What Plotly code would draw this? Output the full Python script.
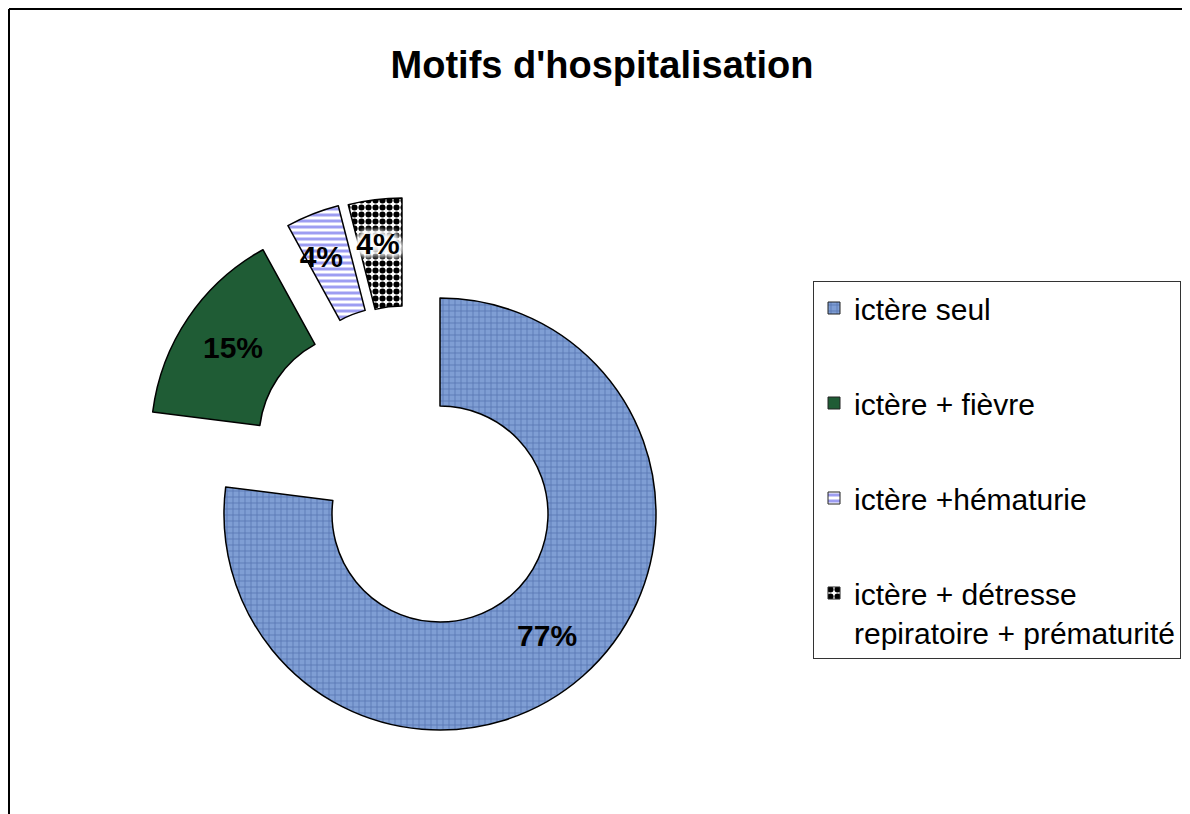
import plotly.graph_objects as go

# ---------------- data ----------------
LABELS = ["ictère seul", "ictère + fièvre", "ictère +hématurie",
          "ictère + détresse repiratoire + prématurité"]
LEGEND_LABELS = ["ictère seul", "ictère + fièvre", "ictère +hématurie",
                 "ictère + détresse<br>repiratoire + prématurité"]
VALUES = [77, 15, 4, 4]
TITLE = "Motifs d'hospitalisation"

# ---------------- style ----------------
PAGE_OFF = 8                     # default body margin of the html page
W, H = 1190 - PAGE_OFF, 814 - PAGE_OFF
FONT = "Liberation Sans, Arial, sans-serif"
COLORS = ["#7393cb", "#1f5c35", "#ffffff", "#ffffff"]
PAT_SHAPE = ["+", "", "-", "."]
PAT_FG = ["#5876b3", "#1f5c35", "#9d9df2", "#000000"]
PAT_BG = ["#7f9ed4", "#1f5c35", "#ffffff", "#ffffff"]
PAT_SIZE = [6, 8, 6, 7]
PAT_SOLID = [0.25, 0.3, 0.5, 0.6]
TEXT_PREFIX = ["", "", "\u00a0<br>", "\u00a0<br>"]   # nudges small labels inward
TEXT_SHADOW = ["", "", "",
               "0 0 7px white, 0 0 7px white, 0 0 7px white, 0 0 7px white, "
               "0 0 7px white, 0 0 7px white, 0 0 7px white, 0 0 7px white"]
# doughnut centre / radius (page px) and explode offsets of each slice (px)
CX, CY, R = 440, 514, 216
EXPLODE = [(0, 0), (-73, -75), (-48, -99), (-38, -100)]
HOLE = 0.5


def px(x):
    return (x - PAGE_OFF) / W


def py(y):
    return 1 - (y - PAGE_OFF) / H


def domain(cx, cy, r):
    return dict(x=[px(cx - r), px(cx + r)], y=[py(cy + r), py(cy - r)])


total = sum(VALUES)
pct_text = [f"{v / total * 100:.0f}%" for v in VALUES]
n = len(VALUES)

fig = go.Figure()

# legend-only entries (tiny pies hidden under the big slice)
for k in range(n):
    fig.add_trace(go.Pie(
        labels=[LEGEND_LABELS[k]], values=[VALUES[k]],
        marker=dict(colors=[COLORS[k]], line=dict(color="#222222", width=1),
                    pattern=dict(shape=PAT_SHAPE[k], fgcolor=PAT_FG[k],
                                 bgcolor=PAT_BG[k], size=PAT_SIZE[k],
                                 solidity=PAT_SOLID[k])),
        domain=domain(600, 560, 0.4), textinfo="none", hoverinfo="skip",
        legendgroup=f"g{k}", showlegend=True, sort=False))

# one doughnut per slice, so each slice can be exploded on its own
for k in range(n):
    colors = [COLORS[i] if i == k else "rgba(0,0,0,0)" for i in range(n)]
    shapes = [PAT_SHAPE[i] if i == k else "" for i in range(n)]
    fg = [PAT_FG[i] if i == k else "rgba(0,0,0,0)" for i in range(n)]
    bg = [PAT_BG[i] if i == k else "rgba(0,0,0,0)" for i in range(n)]
    lw = [1.5 if i == k else 0 for i in range(n)]
    txt = [TEXT_PREFIX[i] + pct_text[i] if i == k else "" for i in range(n)]
    dx, dy = EXPLODE[k]
    tf = dict(size=30, color="black", family=FONT, weight="bold")
    if TEXT_SHADOW[k]:
        tf["shadow"] = TEXT_SHADOW[k]
    fig.add_trace(go.Pie(
        labels=LABELS, values=VALUES, sort=False, direction="clockwise",
        rotation=0, hole=HOLE, domain=domain(CX + dx, CY + dy, R),
        marker=dict(colors=colors, line=dict(color="black", width=lw),
                    pattern=dict(shape=shapes, fgcolor=fg, bgcolor=bg,
                                 size=PAT_SIZE[k], solidity=PAT_SOLID[k])),
        text=txt, textinfo="text", textposition="inside",
        insidetextorientation="horizontal", textfont=tf,
        showlegend=False, hoverinfo="skip"))

fig.update_layout(
    width=W, height=H,
    margin=dict(l=0, r=0, t=0, b=0),
    paper_bgcolor="white", plot_bgcolor="white",
    font=dict(family=FONT, color="black"),
    title=dict(text=TITLE, x=px(602), y=py(65), xref="paper", yref="paper",
               xanchor="center", yanchor="middle",
               font=dict(size=38, family=FONT, color="black", weight="bold")),
    uniformtext=dict(minsize=30, mode="show"),
    showlegend=True,
    legend=dict(x=px(813), y=py(281), xanchor="left", yanchor="top",
                bordercolor="#333333", borderwidth=1, bgcolor="white",
                font=dict(size=30, family=FONT, color="black"),
                tracegroupgap=53, traceorder="grouped", valign="top"),
    shapes=[
        dict(type="line", xref="paper", yref="paper", x0=px(9), x1=1.0,
             y0=py(9), y1=py(9), line=dict(color="black", width=2)),
        dict(type="line", xref="paper", yref="paper", x0=px(9), x1=px(9),
             y0=0.0, y1=py(9), line=dict(color="black", width=2)),
    ],
)

fig.write_html("out.html")
